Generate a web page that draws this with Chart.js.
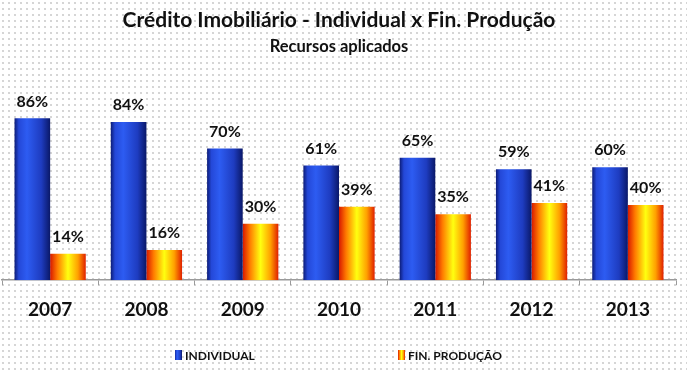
<!DOCTYPE html>
<html>
<head>
<meta charset="utf-8">
<script src="https://cdn.jsdelivr.net/npm/chart.js@4"></script>
<style>
  html, body { margin: 0; padding: 0; }
  body {
    width: 687px; height: 373px; overflow: hidden;
    background-color: #fff;
    background-image: radial-gradient(#d4d4d4 0.7px, transparent 0.9px);
    background-size: 6px 6px;
  }
  #wrap { width: 687px; height: 373px; position: relative; }
</style>
</head>
<body>
<div id="wrap"><canvas id="chart"></canvas></div>
<script>
// Chart data
const years = ['2007', '2008', '2009', '2010', '2011', '2012', '2013'];
const individual = [86, 84, 70, 61, 65, 59, 60];
const finProducao = [14, 16, 30, 39, 35, 41, 40];
const seriesNames = ['INDIVIDUAL', 'FIN. PRODUÇÃO'];

const FONT = 'Lato, "Open Sans", sans-serif';

// Horizontal gradient across each bar, like the original 3D-ish look
const gradientStops = [
    [[0, '#0c1c78'], [0.12, '#2448d8'], [0.35, '#2d5cf2'], [0.75, '#1e3cc0'], [1, '#0a1868']],
    [[0, '#d81800'], [0.2, '#ff7a00'], [0.5, '#ffff10'], [0.78, '#ffa000'], [1, '#e02000']]
];

function makeGradient(ctx, left, width, stops) {
    const g = ctx.createLinearGradient(left, 0, left + width, 0);
    stops.forEach(s => g.addColorStop(s[0], s[1]));
    return g;
}

const barGradients = {
    id: 'barGradients',
    beforeDatasetsDraw(chart) {
        const ctx = chart.ctx;
        chart.data.datasets.forEach((ds, i) => {
            chart.getDatasetMeta(i).data.forEach(bar => {
                const g = makeGradient(ctx, bar.x - bar.width / 2, bar.width, gradientStops[i]);
                // options are shared between bars, so give each bar its own copy
                bar.options = Object.assign({}, bar.options, { backgroundColor: g });
            });
        });
    }
};

// Percent labels above each bar
const valueLabels = {
    id: 'valueLabels',
    afterDatasetsDraw(chart) {
        const ctx = chart.ctx;
        ctx.save();
        ctx.font = 'bold 16px ' + FONT;
        ctx.fillStyle = '#111';
        ctx.textAlign = 'center';
        ctx.textBaseline = 'bottom';
        chart.data.datasets.forEach((ds, i) => {
            chart.getDatasetMeta(i).data.forEach((bar, j) => {
                ctx.fillText(ds.data[j] + '%', bar.x, bar.y - 9);
            });
        });
        ctx.restore();
    }
};

// Legend drawn by hand: the spacing is much wider than Chart.js allows
const wideLegend = {
    id: 'wideLegend',
    afterDraw(chart) {
        const ctx = chart.ctx;
        const xs = [175, 398];
        const y = 355;
        ctx.save();
        ctx.font = 'bold 12px ' + FONT;
        ctx.textBaseline = 'middle';
        seriesNames.forEach((name, i) => {
            ctx.fillStyle = makeGradient(ctx, xs[i], 7, gradientStops[i]);
            ctx.fillRect(xs[i], y - 5, 7, 10);
            ctx.fillStyle = '#111';
            ctx.fillText(name, xs[i] + 10, y + 1);
        });
        ctx.restore();
    }
};

new Chart(document.getElementById('chart'), {
    type: 'bar',
    data: {
        labels: years,
        datasets: [
            { label: seriesNames[0], data: individual, backgroundColor: '#2a50e0' },
            { label: seriesNames[1], data: finProducao, backgroundColor: '#ffb000' }
        ]
    },
    options: {
        responsive: true,
        maintainAspectRatio: false,
        animation: false,
        layout: { padding: { left: 2, right: 11, bottom: 39 } },
        datasets: { bar: { categoryPercentage: 0.74, barPercentage: 1 } },
        scales: {
            x: {
                grid: { display: true, drawOnChartArea: false, color: '#9a9a9a', tickLength: 5 },
                border: { color: '#9a9a9a', width: 1.5 },
                ticks: { color: '#111', font: { family: FONT, size: 19, weight: 'bold' }, padding: 13 }
            },
            y: { display: false, min: 0, max: 100 }
        },
        plugins: {
            title: {
                display: true,
                text: 'Crédito Imobiliário - Individual x Fin. Produção',
                color: '#111',
                font: { family: FONT, size: 21, weight: 'bold' },
                padding: { top: 8, bottom: 4 }
            },
            subtitle: {
                display: true,
                text: 'Recursos aplicados',
                color: '#111',
                font: { family: FONT, size: 16.5, weight: 'bold' },
                padding: { top: 0, bottom: 35 }
            },
            legend: { display: false },
            tooltip: { enabled: false }
        }
    },
    plugins: [barGradients, valueLabels, wideLegend]
});
</script>
</body>
</html>
